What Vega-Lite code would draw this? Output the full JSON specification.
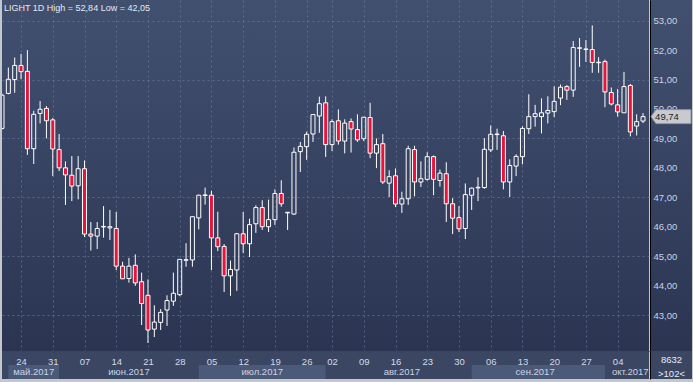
{
  "$schema": "https://vega.github.io/schema/vega-lite/v6.json",
  "background": "#c3c7ce",
  "padding": {"left": 2, "top": 0, "right": 2, "bottom": 3},
  "config": {
    "view": {"stroke": null},
    "locale": {"number": {"decimal": ",", "thousands": " ", "grouping": [3], "currency": ["", ""]}},
    "axis": {"labelFont": "Liberation Sans", "labelFontSize": 9.5, "labelColor": "#c9d3e6", "title": null, "labelFlush": false}
  },
  "datasets": {
    "candles": [
      {"d": "2017-05-19", "o": 49.34, "h": 50.52, "l": 49.30, "c": 50.47},
      {"d": "2017-05-22", "o": 50.53, "h": 51.41, "l": 50.50, "c": 51.01},
      {"d": "2017-05-23", "o": 51.00, "h": 51.75, "l": 50.55, "c": 51.48},
      {"d": "2017-05-24", "o": 51.48, "h": 51.87, "l": 51.01, "c": 51.27},
      {"d": "2017-05-25", "o": 51.28, "h": 52.00, "l": 48.44, "c": 48.65},
      {"d": "2017-05-26", "o": 48.65, "h": 49.94, "l": 48.13, "c": 49.82},
      {"d": "2017-05-29", "o": 49.85, "h": 50.27, "l": 49.51, "c": 49.99},
      {"d": "2017-05-30", "o": 50.02, "h": 50.10, "l": 49.00, "c": 49.60},
      {"d": "2017-05-31", "o": 49.63, "h": 49.69, "l": 47.72, "c": 48.64},
      {"d": "2017-06-01", "o": 48.62, "h": 49.15, "l": 47.89, "c": 48.00},
      {"d": "2017-06-02", "o": 48.00, "h": 48.22, "l": 46.74, "c": 47.76},
      {"d": "2017-06-05", "o": 47.75, "h": 48.40, "l": 46.87, "c": 47.38},
      {"d": "2017-06-06", "o": 47.39, "h": 48.40, "l": 46.93, "c": 47.97},
      {"d": "2017-06-07", "o": 47.97, "h": 48.25, "l": 45.65, "c": 45.75},
      {"d": "2017-06-08", "o": 45.75, "h": 46.16, "l": 45.19, "c": 45.68},
      {"d": "2017-06-09", "o": 45.68, "h": 46.16, "l": 45.24, "c": 45.94},
      {"d": "2017-06-12", "o": 45.99, "h": 46.70, "l": 45.63, "c": 46.01},
      {"d": "2017-06-13", "o": 45.96, "h": 46.57, "l": 45.55, "c": 46.00},
      {"d": "2017-06-14", "o": 45.94, "h": 46.50, "l": 44.53, "c": 44.66},
      {"d": "2017-06-15", "o": 44.66, "h": 44.81, "l": 44.22, "c": 44.23},
      {"d": "2017-06-16", "o": 44.24, "h": 44.94, "l": 44.10, "c": 44.66},
      {"d": "2017-06-19", "o": 44.69, "h": 45.06, "l": 43.99, "c": 44.09},
      {"d": "2017-06-20", "o": 44.13, "h": 44.44, "l": 42.66, "c": 43.39},
      {"d": "2017-06-21", "o": 43.67, "h": 44.21, "l": 42.05, "c": 42.49},
      {"d": "2017-06-22", "o": 42.52, "h": 43.33, "l": 42.25, "c": 42.76},
      {"d": "2017-06-23", "o": 42.75, "h": 43.20, "l": 42.49, "c": 43.09},
      {"d": "2017-06-26", "o": 43.17, "h": 43.67, "l": 42.63, "c": 43.49},
      {"d": "2017-06-27", "o": 43.47, "h": 44.44, "l": 43.31, "c": 43.74},
      {"d": "2017-06-28", "o": 43.69, "h": 44.90, "l": 43.65, "c": 44.89},
      {"d": "2017-06-29", "o": 44.86, "h": 45.44, "l": 44.64, "c": 44.88},
      {"d": "2017-06-30", "o": 44.87, "h": 46.35, "l": 44.64, "c": 46.34},
      {"d": "2017-07-03", "o": 46.30, "h": 47.09, "l": 45.91, "c": 47.07},
      {"d": "2017-07-04", "o": 47.06, "h": 47.33, "l": 46.75, "c": 47.08},
      {"d": "2017-07-05", "o": 47.07, "h": 47.22, "l": 44.53, "c": 45.62},
      {"d": "2017-07-06", "o": 45.62, "h": 46.51, "l": 45.17, "c": 45.32},
      {"d": "2017-07-07", "o": 45.33, "h": 45.41, "l": 43.78, "c": 44.33},
      {"d": "2017-07-10", "o": 44.33, "h": 44.85, "l": 43.65, "c": 44.55},
      {"d": "2017-07-11", "o": 44.53, "h": 45.79, "l": 43.82, "c": 45.76},
      {"d": "2017-07-12", "o": 45.76, "h": 46.50, "l": 45.10, "c": 45.42},
      {"d": "2017-07-13", "o": 45.42, "h": 46.27, "l": 44.97, "c": 46.07},
      {"d": "2017-07-14", "o": 46.10, "h": 46.73, "l": 45.79, "c": 46.65},
      {"d": "2017-07-17", "o": 46.65, "h": 46.90, "l": 45.89, "c": 46.00},
      {"d": "2017-07-18", "o": 46.00, "h": 46.92, "l": 45.82, "c": 46.24},
      {"d": "2017-07-19", "o": 46.24, "h": 47.27, "l": 46.06, "c": 47.13},
      {"d": "2017-07-20", "o": 47.13, "h": 47.58, "l": 46.68, "c": 46.78},
      {"d": "2017-07-21", "o": 46.47, "h": 46.50, "l": 45.89, "c": 46.49},
      {"d": "2017-07-24", "o": 46.43, "h": 48.69, "l": 46.40, "c": 48.53},
      {"d": "2017-07-25", "o": 48.55, "h": 48.88, "l": 47.86, "c": 48.73},
      {"d": "2017-07-26", "o": 48.72, "h": 49.23, "l": 48.27, "c": 49.14},
      {"d": "2017-07-27", "o": 49.15, "h": 49.82, "l": 48.88, "c": 49.81},
      {"d": "2017-07-28", "o": 49.76, "h": 50.42, "l": 49.19, "c": 50.18},
      {"d": "2017-08-01", "o": 50.21, "h": 50.43, "l": 48.37, "c": 48.79},
      {"d": "2017-08-02", "o": 48.79, "h": 49.65, "l": 48.57, "c": 49.57},
      {"d": "2017-08-03", "o": 49.60, "h": 49.99, "l": 48.79, "c": 48.91},
      {"d": "2017-08-04", "o": 48.91, "h": 49.65, "l": 48.49, "c": 49.52},
      {"d": "2017-08-07", "o": 49.57, "h": 49.68, "l": 48.52, "c": 49.32},
      {"d": "2017-08-08", "o": 49.30, "h": 49.82, "l": 48.88, "c": 48.95},
      {"d": "2017-08-09", "o": 48.99, "h": 49.73, "l": 48.91, "c": 49.72},
      {"d": "2017-08-10", "o": 49.71, "h": 50.21, "l": 48.33, "c": 48.50},
      {"d": "2017-08-11", "o": 48.50, "h": 49.00, "l": 47.99, "c": 48.79},
      {"d": "2017-08-14", "o": 48.82, "h": 49.15, "l": 47.45, "c": 47.52},
      {"d": "2017-08-15", "o": 47.48, "h": 47.92, "l": 47.01, "c": 47.70},
      {"d": "2017-08-16", "o": 47.73, "h": 47.98, "l": 46.67, "c": 46.77},
      {"d": "2017-08-17", "o": 46.77, "h": 47.19, "l": 46.47, "c": 46.95},
      {"d": "2017-08-18", "o": 46.95, "h": 48.75, "l": 46.74, "c": 48.65},
      {"d": "2017-08-21", "o": 48.62, "h": 48.75, "l": 47.03, "c": 47.52},
      {"d": "2017-08-22", "o": 47.52, "h": 48.22, "l": 47.35, "c": 47.63},
      {"d": "2017-08-23", "o": 47.61, "h": 48.53, "l": 47.57, "c": 48.38},
      {"d": "2017-08-24", "o": 48.38, "h": 48.42, "l": 47.07, "c": 47.61},
      {"d": "2017-08-25", "o": 47.57, "h": 47.94, "l": 47.36, "c": 47.82},
      {"d": "2017-08-28", "o": 47.80, "h": 48.19, "l": 46.16, "c": 46.78},
      {"d": "2017-08-29", "o": 46.78, "h": 46.97, "l": 45.75, "c": 46.29},
      {"d": "2017-08-30", "o": 46.31, "h": 46.70, "l": 45.82, "c": 45.93},
      {"d": "2017-08-31", "o": 45.94, "h": 47.47, "l": 45.58, "c": 47.09},
      {"d": "2017-09-01", "o": 47.07, "h": 47.33, "l": 46.57, "c": 47.31},
      {"d": "2017-09-04", "o": 47.32, "h": 47.68, "l": 46.87, "c": 47.34},
      {"d": "2017-09-05", "o": 47.33, "h": 49.01, "l": 47.29, "c": 48.63},
      {"d": "2017-09-06", "o": 48.61, "h": 49.44, "l": 48.54, "c": 49.14},
      {"d": "2017-09-07", "o": 49.13, "h": 49.33, "l": 48.61, "c": 49.15},
      {"d": "2017-09-08", "o": 49.09, "h": 49.25, "l": 47.27, "c": 47.52},
      {"d": "2017-09-11", "o": 47.52, "h": 48.29, "l": 47.01, "c": 48.08},
      {"d": "2017-09-12", "o": 48.06, "h": 48.46, "l": 47.72, "c": 48.39},
      {"d": "2017-09-13", "o": 48.38, "h": 49.41, "l": 48.12, "c": 49.34},
      {"d": "2017-09-14", "o": 49.33, "h": 50.50, "l": 49.15, "c": 49.74},
      {"d": "2017-09-15", "o": 49.74, "h": 50.14, "l": 49.40, "c": 49.84},
      {"d": "2017-09-18", "o": 49.74, "h": 50.36, "l": 49.17, "c": 49.87},
      {"d": "2017-09-19", "o": 49.86, "h": 50.43, "l": 49.51, "c": 49.95},
      {"d": "2017-09-20", "o": 49.91, "h": 50.77, "l": 49.72, "c": 50.26},
      {"d": "2017-09-21", "o": 50.37, "h": 50.83, "l": 50.13, "c": 50.74},
      {"d": "2017-09-22", "o": 50.76, "h": 50.81, "l": 50.31, "c": 50.64},
      {"d": "2017-09-25", "o": 50.64, "h": 52.31, "l": 50.41, "c": 52.09},
      {"d": "2017-09-26", "o": 52.06, "h": 52.41, "l": 51.43, "c": 52.08},
      {"d": "2017-09-27", "o": 52.02, "h": 52.34, "l": 51.60, "c": 52.04},
      {"d": "2017-09-28", "o": 52.02, "h": 52.84, "l": 51.23, "c": 51.58},
      {"d": "2017-09-29", "o": 51.57, "h": 51.76, "l": 51.23, "c": 51.59},
      {"d": "2017-10-02", "o": 51.61, "h": 51.68, "l": 50.06, "c": 50.58},
      {"d": "2017-10-03", "o": 50.56, "h": 50.73, "l": 50.12, "c": 50.17},
      {"d": "2017-10-04", "o": 50.14, "h": 50.68, "l": 49.74, "c": 49.90},
      {"d": "2017-10-05", "o": 49.87, "h": 51.26, "l": 49.87, "c": 50.76},
      {"d": "2017-10-06", "o": 50.80, "h": 50.85, "l": 49.07, "c": 49.22},
      {"d": "2017-10-09", "o": 49.42, "h": 49.82, "l": 49.10, "c": 49.57},
      {"d": "2017-10-10", "o": 49.59, "h": 49.86, "l": 49.52, "c": 49.74}
    ],
    "months": [
      {"m": "май.2017", "start": "2017-05-22", "end": "2017-06-01", "mid": "2017-05-26"},
      {"m": "июн.2017", "start": "2017-06-01", "end": "2017-07-03", "mid": "2017-06-16"},
      {"m": "июл.2017", "start": "2017-07-03", "end": "2017-08-01", "mid": "2017-07-17"},
      {"m": "авг.2017", "start": "2017-08-01", "end": "2017-09-01", "mid": "2017-08-17"},
      {"m": "сен.2017", "start": "2017-09-01", "end": "2017-10-02", "mid": "2017-09-15"},
      {"m": "окт.2017", "start": "2017-10-02", "end": "2017-10-10", "mid": "2017-10-06"}
    ]
  },
  "spacing": 0,
  "resolve": {"scale": {"x": "independent", "y": "independent"}},
  "hconcat": [
    {
      "spacing": 0,
      "resolve": {"scale": {"x": "shared", "y": "independent"}, "axis": {"x": "independent"}},
      "vconcat": [
        {
          "width": 647,
          "height": 351,
          "view": {"stroke": null, "fill": {"gradient": "linear", "x1": 0, "y1": 0, "x2": 0, "y2": 1, "stops": [{"offset": 0, "color": "#425070"}, {"offset": 1, "color": "#2b3552"}]}},
          "title": {"text": "LIGHT 1D High = 52,84 Low = 42,05", "anchor": "start", "frame": "group", "offset": -12.5, "dx": 2, "font": "Liberation Sans", "fontSize": 9, "fontWeight": "normal", "color": "#e4e9f2"},
          "data": {"name": "candles"},
          "encoding": {
            "x": {
              "field": "d", "type": "ordinal",
              "scale": {"type": "point", "padding": 0.47, "align": 0},
              "axis": {
                "values": ["2017-05-24", "2017-05-31", "2017-06-07", "2017-06-14", "2017-06-21", "2017-06-28", "2017-07-05", "2017-07-12", "2017-07-19", "2017-07-26", "2017-08-02", "2017-08-09", "2017-08-16", "2017-08-23", "2017-08-30", "2017-09-06", "2017-09-13", "2017-09-20", "2017-09-27", "2017-10-04"],
                "labels": false, "ticks": false, "domain": true, "domainColor": "#000000", "domainWidth": 1,
                "grid": true, "gridColor": "#6f80a3", "gridDash": [2, 3], "gridOpacity": 0.6
              }
            }
          },
          "layer": [
            {
              "mark": {"type": "rule", "color": "#ffffff", "strokeWidth": 1, "clip": true},
              "encoding": {
                "y": {
                  "field": "h", "type": "quantitative",
                  "scale": {"domain": [41.777, 53.703], "nice": false, "zero": false},
                  "axis": {"values": [43, 44, 45, 46, 47, 48, 49, 50, 51, 52, 53], "labels": false, "ticks": false, "domain": false, "grid": true, "gridColor": "#6f80a3", "gridDash": [2, 3], "gridOpacity": 0.6}
                },
                "y2": {"field": "c"}
              }
            },
            {
              "mark": {"type": "rule", "color": "#ffffff", "strokeWidth": 1, "clip": true},
              "encoding": {
                "y": {"field": "o", "type": "quantitative"},
                "y2": {"field": "l"}
              }
            },
            {
              "mark": {"type": "bar", "width": 4, "stroke": "#ffffff", "strokeWidth": 1, "clip": true},
              "encoding": {
                "y": {"field": "o", "type": "quantitative"},
                "y2": {"field": "c"},
                "fill": {"condition": {"test": "datum.c < datum.o", "value": "#e8143c"}, "value": "transparent"}
              }
            }
          ]
        },
        {
          "width": 647,
          "height": 28,
          "view": {"stroke": null, "fill": "#3a4662"},
          "data": {"name": "months"},
          "layer": [
            {
              "mark": {"type": "rect", "clip": true},
              "encoding": {
                "x": {
                  "field": "start", "type": "ordinal",
                  "scale": {"type": "point", "padding": 0.47, "align": 0},
                  "axis": {
                    "orient": "top",
                    "values": ["2017-05-24", "2017-05-31", "2017-06-07", "2017-06-14", "2017-06-21", "2017-06-28", "2017-07-05", "2017-07-12", "2017-07-19", "2017-07-26", "2017-08-02", "2017-08-09", "2017-08-16", "2017-08-23", "2017-08-30", "2017-09-06", "2017-09-13", "2017-09-20", "2017-09-27", "2017-10-04"],
                    "labelExpr": "substring(datum.value, 8, 10)",
                    "labelPadding": -13, "labelBaseline": "alphabetic", "labelAngle": 0,
                    "labelColor": "#d3dbea",
                    "ticks": false, "domain": false, "grid": false, "zindex": 1
                  }
                },
                "x2": {"field": "end"},
                "y": {"datum": "month", "type": "nominal", "scale": {"domain": ["day", "month"], "paddingInner": 0, "paddingOuter": 0}, "axis": null},
                "fill": {"condition": {"test": "datum.m == 'май.2017' || datum.m == 'июл.2017' || datum.m == 'сен.2017'", "value": "#4c5a7a"}, "value": "#3a4662"}
              }
            },
            {
              "mark": {"type": "text", "font": "Liberation Sans", "fontSize": 9.5, "color": "#c9d3e6"},
              "encoding": {
                "x": {"field": "mid", "type": "ordinal"},
                "y": {"datum": "month", "type": "nominal"},
                "text": {"field": "m"}
              }
            }
          ]
        }
      ]
    },
    {
      "spacing": 0,
      "resolve": {"scale": {"y": "independent"}},
      "vconcat": [
        {
          "width": 42,
          "height": 351,
          "view": {"stroke": null, "fill": {"gradient": "linear", "x1": 0, "y1": 0, "x2": 0, "y2": 1, "stops": [{"offset": 0, "color": "#425070"}, {"offset": 1, "color": "#2b3552"}]}},
          "data": {"name": "candles"},
          "transform": [{"filter": "datum.d == '2017-10-10'"}],
          "encoding": {
            "y": {
              "field": "c", "type": "quantitative",
              "scale": {"domain": [41.777, 53.703], "nice": false, "zero": false},
              "axis": {"orient": "left", "values": [43, 44, 45, 46, 47, 48, 49, 50, 51, 52, 53], "format": ".2f", "labelAlign": "left", "labelBaseline": "middle", "labelPadding": -3, "ticks": false, "tickSize": 0, "domain": true, "domainColor": "#000000", "grid": false}
            }
          },
          "layer": [
            {
              "mark": {"type": "point", "shape": "M -1 0 L -0.75 -0.35 L 1 -0.35 L 1 0.35 L -0.75 0.35 Z", "size": 1600, "filled": true, "fill": "#c8cacf", "stroke": "#8f949c", "strokeWidth": 1, "opacity": 1}
            },
            {
              "mark": {"type": "text", "font": "Liberation Sans", "fontSize": 9.5, "color": "#1b1f27", "dx": -4},
              "encoding": {"text": {"field": "c", "type": "quantitative", "format": ".2f"}}
            }
          ]
        },
        {
          "width": 42,
          "height": 28,
          "view": {"stroke": null, "fill": "#3a4662"},
          "data": {"values": [{"row": "day"}, {"row": "month"}]},
          "mark": {"type": "rect", "fill": "#3a4662"},
          "encoding": {
            "y": {
              "field": "row", "type": "nominal",
              "scale": {"domain": ["day", "month"], "paddingInner": 0, "paddingOuter": 0},
              "axis": {"orient": "left", "labelExpr": "datum.value == 'day' ? '8632' : '>102<'", "labelAlign": "center", "labelPadding": -21, "labelOffset": 2, "labelColor": "#e8ecf4", "ticks": false, "tickSize": 0, "domain": true, "domainColor": "#000000"}
            }
          }
        }
      ]
    }
  ]
}
